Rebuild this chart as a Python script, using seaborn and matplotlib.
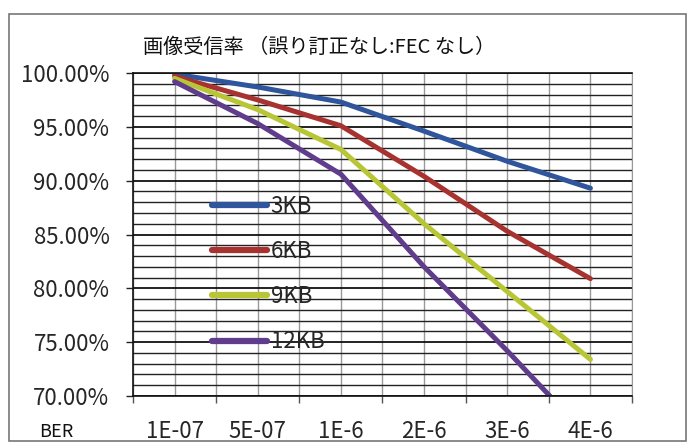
import matplotlib
matplotlib.use("Agg")
import matplotlib.pyplot as plt
from matplotlib.patches import Rectangle
from matplotlib.ticker import MultipleLocator, FixedLocator, PercentFormatter
import seaborn as sns
import pandas as pd

# values
ber = ["1E-07", "5E-07", "1E-6", "2E-6", "3E-6", "4E-6"]
kb3 = [0.999, 0.987, 0.973, 0.946, 0.918, 0.893]
kb6 = [0.997, 0.975, 0.951, 0.904, 0.853, 0.809]
kb9 = [0.995, 0.966, 0.929, 0.860, 0.797, 0.734]
kb12 = [0.992, 0.953, 0.906, 0.820, 0.742, 0.660]
sizes = ["3KB", "6KB", "9KB", "12KB"]
colors = ["#2f559c", "#a8322f", "#b8c535", "#5f3d8c"]

rows = []
for name, vals in zip(sizes, [kb3, kb6, kb9, kb12]):
    for b, v in zip(ber, vals):
        rows.append({"BER": b, "rate": v, "size": name})
df = pd.DataFrame(rows)

sns.set_style("white")
plt.rcParams["font.family"] = ["Noto Sans CJK JP", "DejaVu Sans"]

fig = plt.figure(figsize=(6.94, 4.42), dpi=100)
ax = fig.add_axes([133 / 694, 46 / 442, 499 / 694, 323 / 442])

sns.lineplot(data=df, x="BER", y="rate", hue="size", palette=colors,
             linewidth=3.6, sort=False, ax=ax)

ax.set_xlim(-0.5, len(ber) - 0.5)
ax.set_ylim(0.70, 1.0)
ax.yaxis.set_major_locator(MultipleLocator(0.05))
ax.yaxis.set_minor_locator(MultipleLocator(0.01))
ax.yaxis.set_major_formatter(PercentFormatter(xmax=1, decimals=2))
ax.xaxis.set_minor_locator(FixedLocator([i - 0.5 for i in range(len(ber) + 1)]))

# grid: black horizontal lines, grey vertical lines
ax.grid(True, axis="y", which="major", color="#111111", linewidth=1.3)
ax.grid(True, axis="y", which="minor", color="#222222", linewidth=1.0)
ax.grid(True, axis="x", which="both", color="#999999", linewidth=1.0)
ax.set_axisbelow(True)

ax.tick_params(axis="y", which="major", direction="out", length=5, width=1,
               color="#222222", pad=12, labelsize=16, left=True)
ax.tick_params(axis="y", which="minor", length=0)
ax.tick_params(axis="x", which="major", length=0, pad=17, labelsize=16)
ax.tick_params(axis="x", which="minor", direction="out", length=5, width=1,
               color="#555555", bottom=True)

for s in ["left", "bottom", "top"]:
    ax.spines[s].set_color("#111111")
    ax.spines[s].set_linewidth(1.2)
ax.spines["right"].set_color("#999999")

ax.set_xlabel("")
ax.set_ylabel("")

sns.move_legend(ax, loc="upper left", bbox_to_anchor=(0.158, 0.623),
                frameon=False, title=None, fontsize=16, handlelength=2.5,
                handletextpad=0.15, labelspacing=1.0, borderpad=0,
                borderaxespad=0)
for line in ax.get_legend().get_lines():
    line.set_linewidth(4.5)

fig.text(143 / 694, 1 - 47 / 442, "画像受信率 （誤り訂正なし:FEC なし）",
         fontsize=14.5, va="center", ha="left", color="#111111")
fig.text(56 / 694, 1 - 432 / 442, "BER", fontsize=13, ha="center",
         va="center", color="#111111")

# outer chart frame
fig.patches.append(Rectangle((9 / 694, 1 / 442), 677 / 694, 427 / 442,
                             transform=fig.transFigure, fill=False,
                             edgecolor="#777777", linewidth=1.2))

fig.savefig("out.png", dpi=100)
